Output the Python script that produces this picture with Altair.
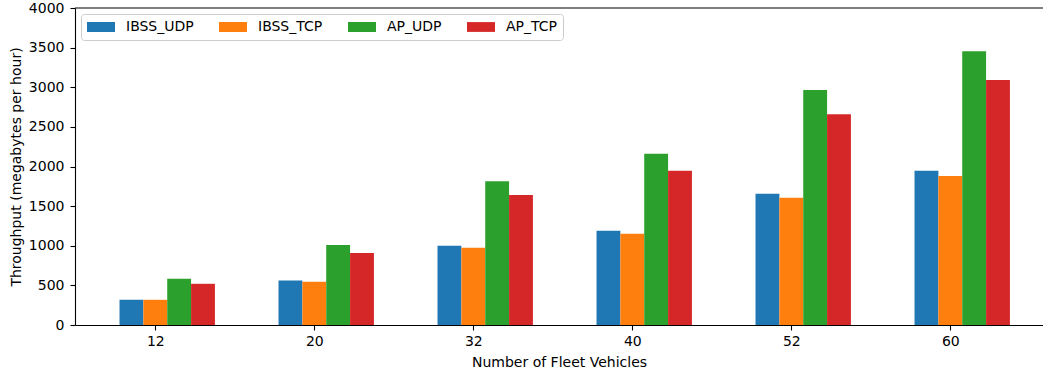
import altair as alt
import pandas as pd

vehicles = ["12", "20", "32", "40", "52", "60"]
series = ["IBSS_UDP", "IBSS_TCP", "AP_UDP", "AP_TCP"]
colors = ["#1f77b4", "#ff7f0e", "#2ca02c", "#d62728"]
ibss_udp = [320, 560, 1000, 1190, 1655, 1945]
ibss_tcp = [318, 545, 975, 1150, 1605, 1880]
ap_udp = [585, 1010, 1815, 2160, 2965, 3455]
ap_tcp = [520, 910, 1640, 1945, 2660, 3090]
y_ticks = [0, 500, 1000, 1500, 2000, 2500, 3000, 3500, 4000]

values = [ibss_udp, ibss_tcp, ap_udp, ap_tcp]
rows = []
for si, (name, vals) in enumerate(zip(series, values)):
    for ci, v in enumerate(vals):
        rows.append({"ci": ci, "si": si, "series": name, "vehicles": vehicles[ci], "value": v})
df = pd.DataFrame(rows)

FONT = "DejaVu Sans"
label_expr = "[" + ",".join("'" + v + "'" for v in vehicles) + "][datum.value]"

y_scale = alt.Scale(domain=[0, 4000], nice=False)
y_axis = alt.Axis(values=y_ticks, format="d", labelOverlap=False, labelPadding=6,
                  title="Throughput (megabytes per hour)", grid=False)

bars = alt.Chart(df).transform_calculate(
    x0="datum.ci + (datum.si - 1.5) * 0.15",
    x1="datum.ci + (datum.si - 0.5) * 0.15",
).mark_bar().encode(
    x=alt.X("x0:Q",
            scale=alt.Scale(domain=[-0.505, 5.583], nice=False, zero=False),
            axis=alt.Axis(values=list(range(len(vehicles))), labelExpr=label_expr,
                          title="Number of Fleet Vehicles", titlePadding=7, grid=False)),
    x2="x1:Q",
    y=alt.Y("value:Q", scale=y_scale, axis=y_axis),
    y2=alt.datum(0),
    color=alt.Color("series:N",
                    scale=alt.Scale(domain=series, range=colors),
                    legend=alt.Legend(title=None, orient="top-left", direction="horizontal",
                                      columns=4, offset=6, padding=6, clipHeight=14,
                                      symbolType="M-1,-0.35H1V0.35H-1Z", symbolSize=784,
                                      symbolStrokeWidth=0, symbolOpacity=1,
                                      labelOffset=11, columnPadding=25,
                                      labelFont=FONT, labelFontSize=14, labelColor="black",
                                      strokeColor="#cccccc", fillColor="white", cornerRadius=3)),
)

top_line = alt.Chart(pd.DataFrame({"value": [4000]})).mark_rule(color="black", strokeWidth=1.1).encode(
    y=alt.Y("value:Q", scale=y_scale, axis=y_axis)
)

chart = alt.layer(bars, top_line).properties(
    width=968, height=317,
    autosize=alt.AutoSizeParams(type="none"),
    padding={"left": 75, "top": 8, "right": 0, "bottom": 48},
).configure_view(strokeWidth=0).configure_axis(
    labelFont=FONT, labelFontSize=14, labelColor="black",
    titleFont=FONT, titleFontSize=14, titleFontWeight="normal", titleColor="black",
    domainColor="black", domainWidth=1.1, tickColor="black", tickWidth=1.1,
    tickSize=5, labelPadding=4, titlePadding=5,
)

chart.save("out.html", embed_options={"renderer": "svg", "actions": False})
